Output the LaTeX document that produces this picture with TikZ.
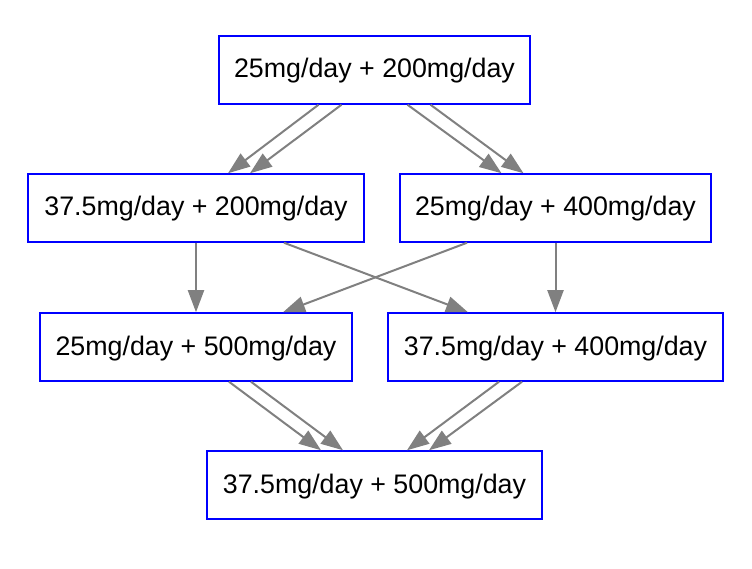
\documentclass[tikz,border=0pt]{standalone}
\usepackage{fontspec}
\setmainfont{Liberation Sans}
\usetikzlibrary{arrows.meta}
\begin{document}
\begin{tikzpicture}[x=1pt,y=-1pt,
  box/.style={draw=blue,line width=1.5pt,minimum height=68pt,inner sep=0pt,text height=20pt,text depth=4pt,font=\fontsize{26.8}{30}\selectfont},
  conn/.style={draw={rgb,255:red,128;green,128;blue,128},line width=2pt,-{Triangle[length=22pt,width=16pt]}}]
\useasboundingbox (0,0) rectangle (752,569);
\node[box,minimum width=311pt] (a) at (374.5,70) {25mg/day + 200mg/day};
\node[box,minimum width=336pt] (b) at (196,208) {37.5mg/day + 200mg/day};
\node[box,minimum width=311pt] (c) at (555.5,208) {25mg/day + 400mg/day};
\node[box,minimum width=312pt] (d) at (196,347) {25mg/day + 500mg/day};
\node[box,minimum width=335pt] (e) at (555.5,347) {37.5mg/day + 400mg/day};
\node[box,minimum width=335pt] (f) at (374.5,485) {37.5mg/day + 500mg/day};
\draw[conn] ([xshift=-56pt]a.south) -- ([xshift=32pt]b.north);
\draw[conn] ([xshift=-33pt]a.south) -- ([xshift=54pt]b.north);
\draw[conn] ([xshift=33pt]a.south) -- ([xshift=-54pt]c.north);
\draw[conn] ([xshift=56pt]a.south) -- ([xshift=-32pt]c.north);
\draw[conn] (b.south) -- (d.north);
\draw[conn] ([xshift=88pt]b.south) -- ([xshift=-87.5pt]e.north);
\draw[conn] ([xshift=-88.5pt]c.south) -- ([xshift=87pt]d.north);
\draw[conn] (c.south) -- (e.north);
\draw[conn] ([xshift=33pt]d.south) -- ([xshift=-53.5pt]f.north);
\draw[conn] ([xshift=55pt]d.south) -- ([xshift=-31.5pt]f.north);
\draw[conn] ([xshift=-56.5pt]e.south) -- ([xshift=32.5pt]f.north);
\draw[conn] ([xshift=-33.5pt]e.south) -- ([xshift=54.5pt]f.north);
\end{tikzpicture}
\end{document}
